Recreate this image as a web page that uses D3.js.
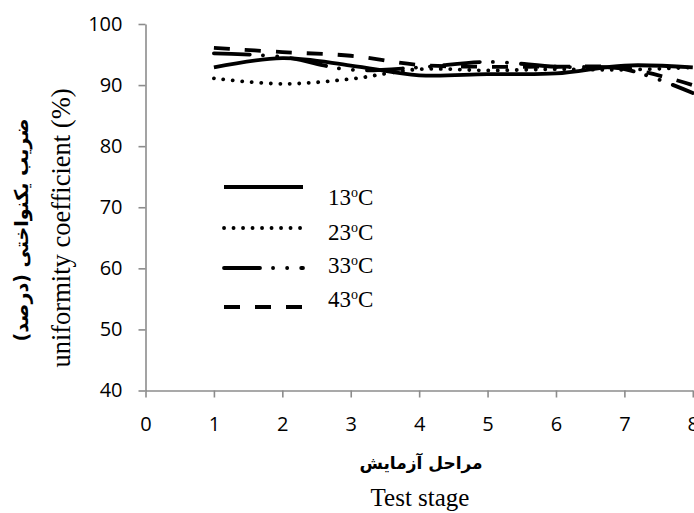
<!DOCTYPE html>
<html>
<head>
  <meta charset="utf-8">
  <script src="https://cdn.jsdelivr.net/npm/d3@7"></script>
  <style>
    body { margin: 0; background: #fff; }
  </style>
</head>
<body>
  <script>
    const w = 694;
    const h = 513;

    // data
    const stages = [1, 2, 3, 4, 5, 6, 7, 8];
    const temps = ["13", "23", "33", "43"];
    const t13 = [92.9, 94.4, 93.2, 91.6, 91.8, 91.9, 93.2, 92.9];
    const t23 = [91.1, 90.2, 91.0, 92.6, 92.4, 92.6, 92.5, 92.9];
    const t33 = [95.2, 94.6, 92.5, 92.9, 93.8, 93.0, 92.6, 88.7];
    const t43 = [96.1, 95.4, 94.8, 93.3, 93.0, 93.0, 92.8, 90.0];
    const xTicks = [0, 1, 2, 3, 4, 5, 6, 7, 8];
    const yTicks = [40, 50, 60, 70, 80, 90, 100];

    const seriesValues = [t13, t23, t33, t43];
    const dashes = ["none", "0.1 9.4", "36 13 0.1 14 0.1 14", "16 15"];
    const caps = ["butt", "round", "round", "butt"];

    const xScale = d3.scaleLinear().domain([0, 8]).range([145.5, 692.8]);
    const yScale = d3.scaleLinear().domain([40, 100]).range([390.5, 24]);

    const svg = d3.select("body").append("svg")
      .attr("width", w)
      .attr("height", h);

    // axes
    const xAxis = svg.append("g")
      .attr("transform", `translate(0,${yScale(40)})`)
      .call(d3.axisBottom(xScale).tickValues(xTicks).tickSize(7).tickPadding(19).tickSizeOuter(0));
    const yAxis = svg.append("g")
      .attr("transform", `translate(${xScale(0)},0)`)
      .call(d3.axisLeft(yScale).tickValues(yTicks).tickSize(7).tickPadding(16).tickSizeOuter(0));

    [xAxis, yAxis].forEach(function (a) {
      a.select(".domain").attr("stroke", "#8c8c8c").attr("stroke-width", 1.6);
      a.selectAll(".tick line").attr("stroke", "#8c8c8c").attr("stroke-width", 1.6);
      a.selectAll(".tick text")
        .attr("fill", "#000")
        .style("font-family", "Open Sans")
        .style("font-size", "20px");
    });

    // lines
    const line = d3.line()
      .x(function (d, i) { return xScale(stages[i]); })
      .y(function (d) { return yScale(d); })
      .curve(d3.curveCatmullRom);

    // dashed series first so the solid one sits on top
    [3, 2, 1, 0].forEach(function (k) {
      svg.append("path")
        .datum(seriesValues[k])
        .attr("d", line)
        .attr("fill", "none")
        .attr("stroke", "#000")
        .attr("stroke-width", 3.8)
        .attr("stroke-linecap", caps[k])
        .attr("stroke-dasharray", dashes[k]);
    });

    // legend
    const legY = [187, 228, 268, 307];
    const legTextY = [205, 240, 273, 307];
    temps.forEach(function (t, k) {
      svg.append("line")
        .attr("x1", 224).attr("x2", 303)
        .attr("y1", legY[k]).attr("y2", legY[k])
        .attr("stroke", "#000")
        .attr("stroke-width", 3.8)
        .attr("stroke-linecap", caps[k])
        .attr("stroke-dasharray", dashes[k]);
      const txt = svg.append("text")
        .attr("x", 328).attr("y", legTextY[k])
        .style("font-family", "Liberation Serif")
        .style("font-size", "23px");
      txt.append("tspan").text(t);
      txt.append("tspan").attr("dy", -8).style("font-size", "14px").text("o");
      txt.append("tspan").attr("dy", 8).text("C");
    });

    // axis titles
    svg.append("text")
      .attr("x", 421).attr("y", 469)
      .attr("text-anchor", "middle")
      .style("font-family", "DejaVu Sans")
      .style("font-weight", "bold")
      .style("font-size", "17px")
      .text("مراحل آزمایش");
    svg.append("text")
      .attr("x", 420).attr("y", 506)
      .attr("text-anchor", "middle")
      .style("font-family", "Liberation Serif")
      .style("font-size", "25px")
      .text("Test stage");

    svg.append("text")
      .attr("transform", "translate(70,228) rotate(-90)")
      .attr("text-anchor", "middle")
      .style("font-family", "Liberation Serif")
      .style("font-size", "26.5px")
      .text("uniformity coefficient (%)");
    svg.append("text")
      .attr("transform", "translate(28,230) rotate(-90)")
      .attr("text-anchor", "middle")
      .style("font-family", "DejaVu Sans")
      .style("font-weight", "bold")
      .style("font-size", "19px")
      .text("ضریب یکنواختی (درصد)");
  </script>
</body>
</html>
